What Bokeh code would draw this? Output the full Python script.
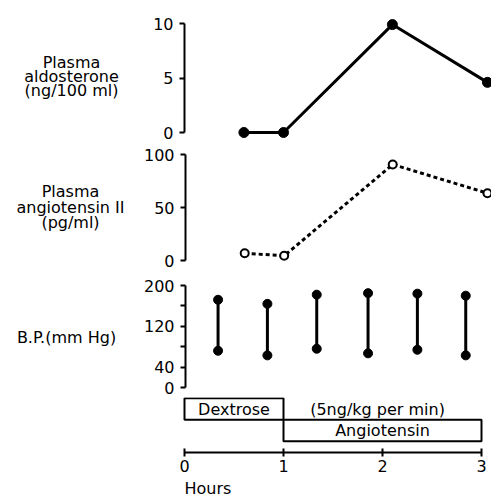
from bokeh.plotting import figure
from bokeh.layouts import column, row
from bokeh.models import Range1d, FixedTicker
from bokeh.core.properties import value
from bokeh.embed import file_html
from bokeh.resources import INLINE

# ---------------- data ----------------
aldo_hours = [0.6, 1.0, 2.1, 3.06]
aldo_values = [0, 0, 9.9, 4.6]
angio_hours = [0.6, 1.0, 2.1, 3.06]
angio_values = [6.9, 4.4, 90.6, 63.5]
bp_hours = [0.33, 0.83, 1.33, 1.85, 2.35, 2.84]
bp_systolic = [172, 164, 182, 185, 184, 180]
bp_diastolic = [72, 63, 76, 67, 74, 63]
phase_names = ["Dextrose", "Angiotensin"]
phase_start = [0, 1]
phase_end = [1, 3]
phase_row = [1, 0]
dose_text = "(5ng/kg per min)"
aldo_ticks = [0, 5, 10]
angio_ticks = [0, 50, 100]
bp_ticks = [0, 40, 80, 120, 160, 200]
bp_tick_labels = {0: "0", 40: "40", 80: "", 120: "120", 160: "", 200: "200"}
hour_ticks = [0, 1, 2, 3]
hour_label = "Hours"
aldo_label = ["Plasma", "aldosterone", "(ng/100 ml)"]
angio_label = ["Plasma", "angiotensin II", "(pg/ml)"]
bp_label = ["B.P.(mm Hg)"]

# ---------------- layout ----------------
FONT = "DejaVu Sans"
FS = "16px"
W = 491
LAB_W = 140               # width of the left label column
H0 = 184                  # page x of hour 0
PXH = 99.0                # pixels per hour
X_END = (W - H0) / PXH
SHIFT = 6                 # protocol panel frame starts a bit before hour 0


def vmap(frame_top, frame_bottom, vmax, ymax_px, y0_px):
    s = (y0_px - ymax_px) / vmax
    rng = Range1d(-(frame_bottom - y0_px) / s, vmax + (ymax_px - frame_top) / s)
    return rng, (lambda ref_y: (y0_px - ref_y) / s)


xr = Range1d(0, X_END)
xr4 = Range1d(-SHIFT / PXH, X_END)


def base_fig(width, height, x_range, y_range, left=0, bottom=0, xaxis=None, yaxis=None):
    p = figure(width=width, height=height, x_range=x_range, y_range=y_range,
               toolbar_location=None, output_backend="svg",
               x_axis_location=xaxis, y_axis_location=yaxis,
               min_border_left=left, min_border_right=0,
               min_border_top=0, min_border_bottom=bottom)
    p.outline_line_color = None
    p.grid.visible = False
    p.background_fill_color = "white"
    p.border_fill_color = "white"
    return p


def style_axis(ax, ticks, bounds):
    ax.ticker = FixedTicker(ticks=ticks)
    ax.bounds = bounds
    ax.axis_line_width = 2
    ax.axis_line_color = "black"
    ax.major_tick_line_width = 2
    ax.major_tick_line_color = "black"
    ax.major_tick_in = 0
    ax.major_tick_out = 5
    ax.minor_tick_line_color = None
    ax.major_label_text_font = FONT
    ax.major_label_text_font_size = FS
    ax.major_label_text_color = "black"
    ax.major_label_standoff = 6


def label_fig(height, y_range, lines, x_center, centers, to_y):
    lf = base_fig(LAB_W, height, Range1d(0, LAB_W), y_range)
    lf.text(x=[x_center] * len(lines), y=[to_y(c) for c in centers], text=lines,
            text_font=value(FONT), text_font_size=value(FS), text_color="black",
            text_align="center", text_baseline="middle")
    return lf


def panel_fig(height, y_range, ticks, bounds):
    p = base_fig(W - LAB_W, height, xr, y_range, left=H0 - LAB_W, yaxis="left")
    style_axis(p.yaxis[0], ticks, bounds)
    return p

# panel 1: aldosterone (frame 0..143)
yr1, to1 = vmap(0, 143, 10, 23, 132)
p1 = panel_fig(143, yr1, aldo_ticks, (0, 10))
p1.line(aldo_hours, aldo_values, line_width=3, color="black")
p1.scatter(aldo_hours, aldo_values, size=10, color="black")
l1 = label_fig(143, yr1, aldo_label, 71, [62, 76, 90], to1)

# panel 2: angiotensin II (frame 143..271)
yr2, to2 = vmap(143, 271, 100, 154, 260)
p2 = panel_fig(128, yr2, angio_ticks, (0, 100))
p2.line(angio_hours, angio_values, line_width=3, color="black", line_dash="4 3")
p2.scatter(angio_hours, angio_values, size=8, line_width=2, line_color="black", fill_color="white")
l2 = label_fig(128, yr2, angio_label, 70, [191, 207, 222], to2)

# panel 3: blood pressure (frame 271..397)
yr3, to3 = vmap(271, 397, 200, 285, 387)
p3 = panel_fig(126, yr3, bp_ticks, (0, 200))
p3.yaxis[0].major_label_overrides = bp_tick_labels
p3.segment(bp_hours, bp_diastolic, bp_hours, bp_systolic, line_width=3, color="black")
p3.scatter(bp_hours, bp_systolic, size=9, color="black")
p3.scatter(bp_hours, bp_diastolic, size=9, color="black")
l3 = label_fig(126, yr3, bp_label, 66, [337], to3)

# panel 4: protocol boxes + hours axis (frame 397..452, axis below to 478)
row_px = 21.5
yr4 = Range1d(0 - (452 - 430) / row_px, 1 + (408.5 - 397) / row_px)
p4 = base_fig(W, 81, xr4, yr4, left=H0 - SHIFT, bottom=26, xaxis="below")
style_axis(p4.xaxis[0], hour_ticks, (0, 3))
p4.xaxis[0].major_tick_in = 4
p4.xaxis[0].major_tick_out = 4
p4.xaxis[0].major_label_standoff = 3
p4.quad(left=phase_start, right=phase_end,
        bottom=[r - 0.5 for r in phase_row], top=[r + 0.5 for r in phase_row],
        fill_color="white", line_color="black", line_width=2)
p4.text(x=[(s + e) / 2 for s, e in zip(phase_start, phase_end)], y=phase_row, text=phase_names,
        text_font=value(FONT), text_font_size=value(FS), text_color="black",
        text_align="center", text_baseline="middle")
p4.text(x=[1.95], y=[phase_row[0]], text=[dose_text],
        text_font=value(FONT), text_font_size=value(FS), text_color="black",
        text_align="center", text_baseline="middle")

# panel 5: "Hours" caption (478..503)
p5 = base_fig(W, 25, xr4, Range1d(0, 25), left=H0 - SHIFT)
p5.text(x=[0], y=[25 - (488 - 478)], text=[hour_label],
        text_font=value(FONT), text_font_size=value(FS), text_color="black",
        text_align="left", text_baseline="middle")

layout = column(row(l1, p1, spacing=0), row(l2, p2, spacing=0), row(l3, p3, spacing=0),
                p4, p5, spacing=0)
open("out.html", "w").write(file_html(layout, INLINE))
